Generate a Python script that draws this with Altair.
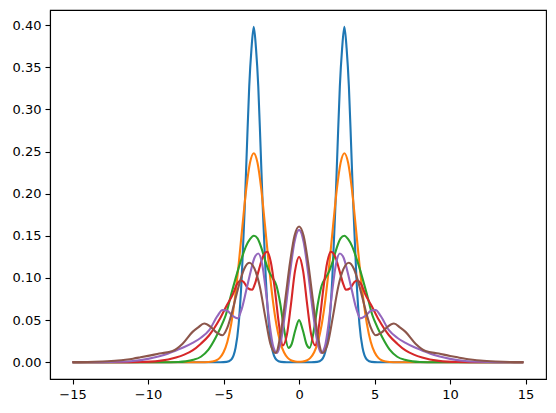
import altair as alt
import pandas as pd

# ---- data ----
blue_x = [-15, -5.2, -4.8, -4.5, -4.2, -4.0, -3.8, -3.6, -3.45, -3.3, -3.15, -3.0, -2.85, -2.7, -2.55, -2.4, -2.2, -2.0, -1.8, -1.5, -1.2, -0.8,
          0, 0.8, 1.2, 1.5, 1.8, 2.0, 2.2, 2.4, 2.55, 2.7, 2.85, 3.0, 3.15, 3.3, 3.45, 3.6, 3.8, 4.0, 4.2, 4.5, 4.8, 5.2, 14.85]
blue_y = [0, 0, 0.0004, 0.003, 0.0175, 0.045, 0.099, 0.182, 0.256, 0.327, 0.372, 0.398, 0.372, 0.327, 0.256, 0.182, 0.099, 0.045, 0.0175, 0.003, 0.0004, 0,
          0, 0, 0.0004, 0.003, 0.0175, 0.045, 0.099, 0.182, 0.256, 0.327, 0.372, 0.398, 0.372, 0.327, 0.256, 0.182, 0.099, 0.045, 0.0175, 0.003, 0.0004, 0, 0]

orange_x = [-15, -6.5, -6.0, -5.75, -5.5, -5.25, -5.0, -4.75, -4.5, -4.25, -4.0, -3.75, -3.5, -3.25, -3.0, -2.75, -2.5, -2.25, -2.0, -1.75, -1.5, -1.25, -1.0, -0.75, -0.5, -0.25,
            0, 0.25, 0.5, 0.75, 1.0, 1.25, 1.5, 1.75, 2.0, 2.25, 2.5, 2.75, 3.0, 3.25, 3.5, 3.75, 4.0, 4.25, 4.5, 4.75, 5.0, 5.25, 5.5, 5.75, 6.0, 6.5, 14.85]
orange_y = [0, 0, 0.0003, 0.0008, 0.0021, 0.0052, 0.0118, 0.024, 0.0446, 0.0754, 0.1157, 0.1615, 0.205, 0.2365, 0.248, 0.2365, 0.205, 0.1615, 0.1157, 0.0754, 0.0446, 0.024, 0.0118, 0.0052, 0.0021, 0.0008,
            0.0005, 0.0008, 0.0021, 0.0052, 0.0118, 0.024, 0.0446, 0.0754, 0.1157, 0.1615, 0.205, 0.2365, 0.248, 0.2365, 0.205, 0.1615, 0.1157, 0.0754, 0.0446, 0.024, 0.0118, 0.0052, 0.0021, 0.0008, 0.0003, 0, 0]

green_x = [-15, -9.0, -8.0, -7.5, -7.0, -6.5, -6.0, -5.5, -5.0, -4.85, -4.5, -4.0, -3.75, -3.5, -3.25, -3.0, -2.75, -2.5, -2.25, -2.0, -1.75, -1.5, -1.25, -1.0, -0.7, -0.5, -0.25,
           0, 0.25, 0.5, 0.7, 1.0, 1.25, 1.5, 1.75, 2.0, 2.25, 2.5, 2.75, 3.0, 3.25, 3.5, 3.75, 4.0, 4.5, 4.85, 5.0, 5.5, 6.0, 6.5, 7.0, 7.5, 8.0, 9.0, 14.85]
green_y = [0, 0, 0.0003, 0.001, 0.0028, 0.0065, 0.015, 0.030, 0.049, 0.056, 0.080, 0.112, 0.126, 0.138, 0.146, 0.150, 0.147, 0.136, 0.121, 0.108, 0.100, 0.091, 0.070, 0.040, 0.017, 0.021, 0.038,
           0.050, 0.038, 0.021, 0.017, 0.040, 0.070, 0.091, 0.100, 0.108, 0.121, 0.136, 0.147, 0.150, 0.146, 0.138, 0.126, 0.112, 0.080, 0.056, 0.049, 0.030, 0.015, 0.0065, 0.0028, 0.001, 0.0003, 0, 0]

red_x = [-15, -12.0, -10.5, -9.25, -8.15, -7.6, -7.05, -6.5, -5.95, -5.29, -4.8, -4.4, -4.1, -3.87, -3.65, -3.4, -3.1, -2.94, -2.67, -2.4, -2.1, -1.87, -1.6, -1.34, -1.07, -0.8, -0.54, -0.27,
         0, 0.27, 0.54, 0.8, 1.07, 1.34, 1.6, 1.87, 2.1, 2.4, 2.67, 2.94, 3.1, 3.4, 3.65, 3.87, 4.1, 4.4, 4.8, 5.29, 5.95, 6.5, 7.05, 7.6, 8.15, 9.25, 10.5, 12.0, 14.85]
red_y = [0, 0, 0.0003, 0.0016, 0.0055, 0.009, 0.014, 0.022, 0.032, 0.050, 0.067, 0.080, 0.093, 0.097, 0.095, 0.088, 0.086, 0.092, 0.109, 0.125, 0.131, 0.119, 0.086, 0.046, 0.020, 0.033, 0.068, 0.108,
         0.125, 0.108, 0.068, 0.033, 0.020, 0.046, 0.086, 0.119, 0.131, 0.125, 0.109, 0.092, 0.086, 0.088, 0.095, 0.097, 0.093, 0.080, 0.067, 0.050, 0.032, 0.022, 0.014, 0.009, 0.0055, 0.0016, 0.0003, 0, 0]

purple_x = [-15, -13.0, -12.0, -11.0, -10.0, -9.25, -8.7, -8.15, -7.6, -7.05, -6.5, -5.95, -5.4, -5.07, -4.75, -4.4, -4.07, -3.8, -3.5, -3.2, -2.95, -2.7, -2.45, -2.2, -1.95, -1.7, -1.45, -1.2, -0.9, -0.6, -0.3,
            0, 0.3, 0.6, 0.9, 1.2, 1.45, 1.7, 1.95, 2.2, 2.45, 2.7, 2.95, 3.2, 3.5, 3.8, 4.07, 4.4, 4.75, 5.07, 5.4, 5.95, 6.5, 7.05, 7.6, 8.15, 8.7, 9.25, 10.0, 11.0, 12.0, 13.0, 14.85]
purple_y = [0, 0.0001, 0.0005, 0.0015, 0.004, 0.007, 0.010, 0.014, 0.018, 0.023, 0.029, 0.038, 0.055, 0.062, 0.061, 0.055, 0.052, 0.063, 0.085, 0.108, 0.124, 0.129, 0.117, 0.085, 0.045, 0.018, 0.011, 0.025, 0.062, 0.106, 0.143,
            0.157, 0.143, 0.106, 0.062, 0.025, 0.011, 0.018, 0.045, 0.085, 0.117, 0.129, 0.124, 0.108, 0.085, 0.063, 0.052, 0.055, 0.061, 0.062, 0.055, 0.038, 0.029, 0.023, 0.018, 0.014, 0.010, 0.007, 0.004, 0.0015, 0.0005, 0.0001, 0]

brown_x = [-15, -14.0, -13.0, -12.0, -11.5, -11.0, -10.5, -10.0, -9.25, -8.37, -7.71, -7.05, -6.7, -6.28, -5.85, -5.45, -5.07, -4.75, -4.4, -4.0, -3.65, -3.3, -2.95, -2.6, -2.25, -1.9, -1.55, -1.2, -0.9, -0.6, -0.3,
           0, 0.3, 0.6, 0.9, 1.2, 1.55, 1.9, 2.25, 2.6, 2.95, 3.3, 3.65, 4.0, 4.4, 4.75, 5.07, 5.45, 5.85, 6.28, 6.7, 7.05, 7.71, 8.37, 9.25, 10.0, 10.5, 11.0, 11.5, 12.0, 13.0, 14.0, 14.85]
brown_y = [0.0001, 0.0002, 0.0008, 0.002, 0.003, 0.0042, 0.0058, 0.0075, 0.0103, 0.0134, 0.022, 0.036, 0.041, 0.046, 0.042, 0.035, 0.032, 0.041, 0.062, 0.090, 0.110, 0.118, 0.111, 0.090, 0.055, 0.022, 0.011, 0.036, 0.076, 0.118, 0.150,
           0.161, 0.150, 0.118, 0.076, 0.036, 0.011, 0.022, 0.055, 0.090, 0.111, 0.118, 0.110, 0.090, 0.062, 0.041, 0.032, 0.035, 0.042, 0.046, 0.041, 0.036, 0.022, 0.0134, 0.0103, 0.0075, 0.0058, 0.0042, 0.003, 0.002, 0.0008, 0.0002, 0.0001]

series = [
    (blue_x, blue_y, "#1f77b4"),
    (orange_x, orange_y, "#ff7f0e"),
    (green_x, green_y, "#2ca02c"),
    (red_x, red_y, "#d62728"),
    (purple_x, purple_y, "#9467bd"),
    (brown_x, brown_y, "#8c564b"),
]

x_ticks = [-15, -10, -5, 0, 5, 10, 15]
y_ticks = [0.0, 0.05, 0.10, 0.15, 0.20, 0.25, 0.30, 0.35, 0.40]

x_scale = alt.Scale(domain=[-16.49, 16.35], nice=False, zero=False)
y_scale = alt.Scale(domain=[-0.0199, 0.4179], nice=False, zero=False)

axis_common = dict(
    labelFont="DejaVu Sans", labelFontSize=13, labelColor="black",
    tickColor="black", tickSize=5, tickWidth=1.1,
    domainColor="black", domainWidth=1.1, grid=False, title=None, labelPadding=4,
)

layers = []
for xs, ys, col in series:
    assert len(xs) == len(ys), (col, len(xs), len(ys))
    df = pd.DataFrame({"x": xs, "y": ys})
    layers.append(
        alt.Chart(df).mark_line(color=col, strokeWidth=2.1, interpolate="monotone", clip=True).encode(
            x=alt.X("x:Q", scale=x_scale, axis=alt.Axis(values=x_ticks, format="d", **axis_common)),
            y=alt.Y("y:Q", scale=y_scale, axis=alt.Axis(values=y_ticks, format=".2f", **axis_common)),
        )
    )

chart = alt.layer(*layers).properties(
    width=496, height=369,
    background="white",
    autosize=alt.AutoSizeParams(type="none"),
    padding={"left": 42, "top": 2, "right": 2, "bottom": 26},
).configure_view(stroke="black", strokeWidth=1.1)

chart.save("out.html", embed_options={"renderer": "svg", "actions": False})
